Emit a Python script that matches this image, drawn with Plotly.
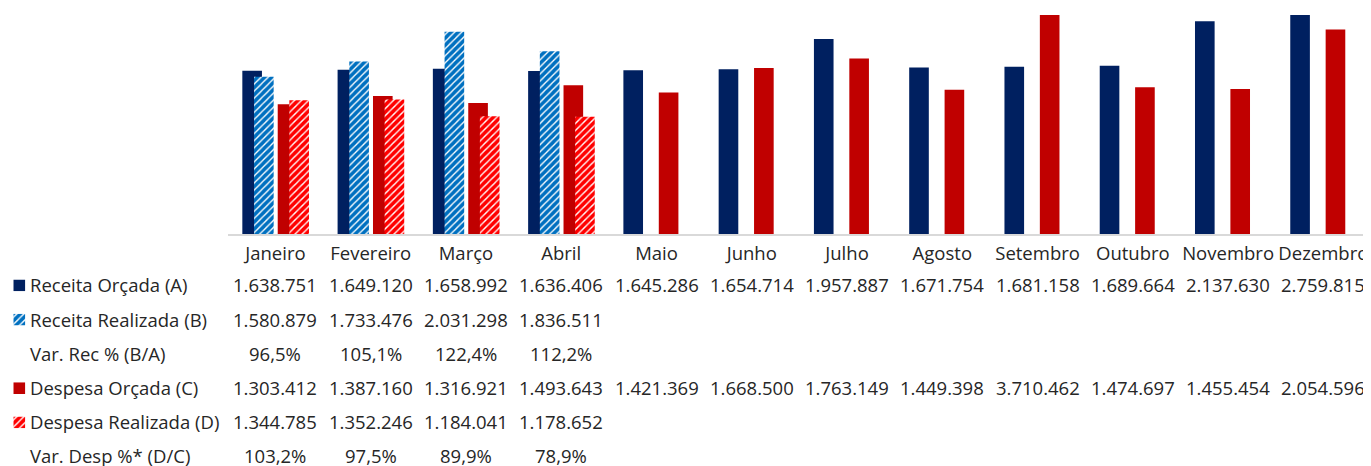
import plotly.graph_objects as go

# page body has an 8px margin; figure is sized so it ends at the window edges
OFF = 8
W, H = 1371 - OFF, 466 - OFF

months = ["Janeiro", "Fevereiro", "Março", "Abril", "Maio", "Junho", "Julho",
          "Agosto", "Setembro", "Outubro", "Novembro", "Dezembro"]
receita_orcada = [1638751, 1649120, 1658992, 1636406, 1645286, 1654714, 1957887,
                  1671754, 1681158, 1689664, 2137630, 2759815]
receita_realizada = [1580879, 1733476, 2031298, 1836511]
var_rec = [96.5, 105.1, 122.4, 112.2]
despesa_orcada = [1303412, 1387160, 1316921, 1493643, 1421369, 1668500, 1763149,
                  1449398, 3710462, 1474697, 1455454, 2054596]
despesa_realizada = [1344785, 1352246, 1184041, 1178652]
var_desp = [103.2, 97.5, 89.9, 78.9]

row_labels = ["Receita Orçada (A)", "Receita Realizada (B)", "Var. Rec % (B/A)",
              "Despesa Orçada (C)", "Despesa Realizada (D)", "Var. Desp %* (D/C)"]

NAVY = "#002060"
BLUE = "#0070C0"
DRED = "#C00000"
RED = "#FF0000"
TXT = "#262626"
FONT = "Open Sans"
FS = 18.5

def px_x(p):
    return (p - OFF) / W

def px_y(p):
    return 1 - (p - OFF) / H

def fmt_int(v):
    return f"{v:,}".replace(",", ".")

def fmt_pct(v):
    return f"{v:.1f}".replace(".", ",") + "%"

BW = 0.206
PAT = dict(shape="/", bgcolor="white", size=5, solidity=0.72, fgopacity=1)
series = [
    ("A", receita_orcada, dict(color=NAVY), -0.3475),
    ("B", receita_realizada, dict(color=BLUE, pattern=dict(fgcolor=BLUE, **PAT)), -0.2246),
    ("C", despesa_orcada, dict(color=DRED), 0.024),
    ("D", despesa_realizada, dict(color=RED, pattern=dict(fgcolor=RED, **PAT)), 0.146),
]

fig = go.Figure()
for name, vals, mk, off in series:
    fig.add_trace(go.Bar(
        x=months[:len(vals)], y=vals, name=name,
        marker=dict(line=dict(width=0), **mk),
        width=BW, offset=off, showlegend=False, hoverinfo="skip",
    ))

# legend keys in the table (one small axis per key)
key_rows = {0: series[0], 1: series[1], 3: series[2], 4: series[3]}
row_y0 = 285.9
row_dy = 34.25
row_centers = [row_y0 + i * row_dy for i in range(6)]
row_centers[-1] -= 1.0
TXT_SHIFT = -1.0

layout_axes = {}
k = 2
for r, (name, vals, mk, off) in key_rows.items():
    yc = row_centers[r]
    fig.add_trace(go.Bar(
        x=[0], y=[1], width=1, marker=dict(line=dict(width=0), **mk),
        xaxis=f"x{k}", yaxis=f"y{k}", showlegend=False, hoverinfo="skip",
    ))
    layout_axes[f"xaxis{k}"] = dict(domain=[px_x(13.3), px_x(25.3)], range=[-0.5, 0.5],
                                    visible=False, fixedrange=True, anchor=f"y{k}")
    layout_axes[f"yaxis{k}"] = dict(domain=[px_y(yc - 0.5 + 5.8), px_y(yc - 0.5 - 5.8)], range=[0, 1],
                                    visible=False, fixedrange=True, anchor=f"x{k}")
    k += 1

annotations = []
for r, lab in enumerate(row_labels):
    annotations.append(dict(
        text=lab, x=px_x(28.5), y=px_y(row_centers[r] + TXT_SHIFT), xref="paper", yref="paper",
        xanchor="left", yanchor="middle", showarrow=False, borderpad=0,
        font=dict(family=FONT, size=FS, color=TXT),
    ))

row_values = [
    [fmt_int(v) for v in receita_orcada],
    [fmt_int(v) for v in receita_realizada],
    [fmt_pct(v) for v in var_rec],
    [fmt_int(v) for v in despesa_orcada],
    [fmt_int(v) for v in despesa_realizada],
    [fmt_pct(v) for v in var_desp],
]
for r, vals in enumerate(row_values):
    for m, t in zip(months, vals):
        annotations.append(dict(
            text=t, x=m, y=px_y(row_centers[r] + TXT_SHIFT), xref="x", yref="paper",
            xanchor="center", yanchor="middle", showarrow=False, borderpad=0,
            font=dict(family=FONT, size=FS, color=TXT),
        ))

fig.update_layout(
    width=W, height=H, autosize=False,
    margin=dict(l=0, r=0, t=0, b=0, pad=0),
    paper_bgcolor="white", plot_bgcolor="white",
    barmode="overlay",
    showlegend=False,
    xaxis=dict(domain=[px_x(227.8), 1], type="category", categoryarray=months,
               categoryorder="array", range=[-0.5, 11.5],
               showline=True, linecolor="#D9D9D9", linewidth=1.5,
               ticks="", showgrid=False, zeroline=False, ticklabelstandoff=2,
               tickfont=dict(family=FONT, size=FS, color=TXT), fixedrange=True),
    yaxis=dict(domain=[px_y(234), px_y(15)], range=[0, 2200000], visible=False,
               showgrid=False, zeroline=False, fixedrange=True),
    annotations=annotations,
    **layout_axes,
)

fig.write_html("out.html")
